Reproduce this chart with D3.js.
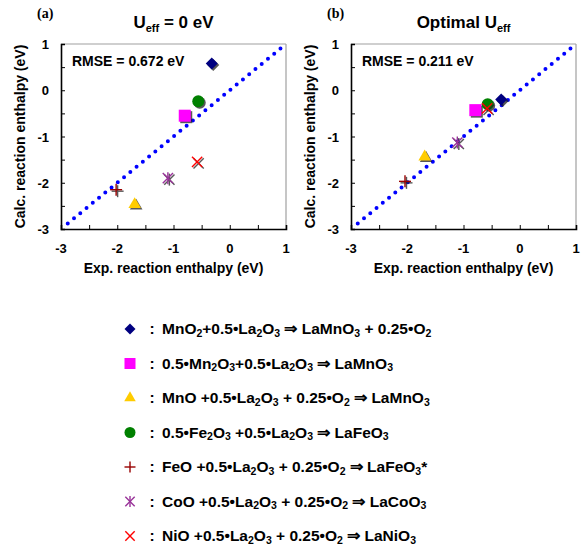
<!DOCTYPE html>
<html>
<head>
<meta charset="utf-8">
<script src="https://cdn.jsdelivr.net/npm/d3@7"></script>
<style>
  body { margin: 0; background: #fff; }
  svg { display: block; }
  text { font-family: "Liberation Sans", Arial, sans-serif; font-weight: bold; fill: #000; }
</style>
</head>
<body>
<svg id="chart" width="583" height="545"></svg>
<script>
// reactions, "_" marks the next char as subscript
const reactions = [
  "MnO_2+0.5•La_2O_3 ⇒ LaMnO_3 + 0.25•O_2",
  "0.5•Mn_2O_3+0.5•La_2O_3 ⇒ LaMnO_3",
  "MnO +0.5•La_2O_3 + 0.25•O_2 ⇒ LaMnO_3",
  "0.5•Fe_2O_3 +0.5•La_2O_3 ⇒ LaFeO_3",
  "FeO +0.5•La_2O_3 + 0.25•O_2 ⇒ LaFeO_3*",
  "CoO +0.5•La_2O_3 + 0.25•O_2 ⇒ LaCoO_3",
  "NiO +0.5•La_2O_3 + 0.25•O_2 ⇒ LaNiO_3"
];
const markers = ["diamond", "square", "triangle", "circle", "plus", "asterisk", "cross"];
const colors = ["#000080", "#FF00FF", "#FFCC00", "#008000", "#990000", "#993399", "#FF0000"];

// panel (a): U_eff = 0 eV
const expA = [-0.32, -0.80, -1.69, -0.56, -2.02, -1.10, -0.58];
const calcA = [0.58, -0.55, -2.47, -0.24, -2.15, -1.90, -1.55];
// panel (b): optimal U_eff
const expB = [-0.33, -0.79, -1.69, -0.57, -2.04, -1.11, -0.58];
const calcB = [-0.20, -0.43, -1.44, -0.30, -1.97, -1.13, -0.39];

const tickValues = [-3, -2, -1, 0, 1];
const rmse = ["RMSE = 0.672 eV", "RMSE = 0.211 eV"];

const svg = d3.select("#chart");

// draws one marker at (0,0) inside group g
function drawMarker(g, type, color, s) {
  const h = s / 2;
  if (type === "diamond") {
    g.append("path").attr("d", d3.symbol(d3.symbolSquare, s * s * 0.5)())
      .attr("transform", "rotate(45)").attr("fill", color);
  } else if (type === "square") {
    g.append("rect").attr("x", -h).attr("y", -h).attr("width", s).attr("height", s).attr("fill", color);
  } else if (type === "triangle") {
    g.append("path").attr("d", d3.symbol(d3.symbolTriangle, 0.433 * s * s * 1.1)()).attr("fill", color);
  } else if (type === "circle") {
    g.append("circle").attr("r", h).attr("fill", color);
  } else {
    let lines = [];
    if (type === "plus" || type === "asterisk") lines.push([0, -h, 0, h]);
    if (type === "plus") lines.push([-h, 0, h, 0]);
    if (type === "cross" || type === "asterisk") {
      lines.push([-h * 0.85, -h * 0.85, h * 0.85, h * 0.85]);
      lines.push([-h * 0.85, h * 0.85, h * 0.85, -h * 0.85]);
    }
    lines.forEach(l => g.append("line")
      .attr("x1", l[0]).attr("y1", l[1]).attr("x2", l[2]).attr("y2", l[3])
      .attr("stroke", color).attr("stroke-width", 1.4));
  }
}

function drawPanel(x0, expVals, calcVals, letter, titleMain, titleSub, titleAfter, rmseText) {
  const x = d3.scaleLinear().domain([-3, 1]).range([x0, x0 + 225]);
  const y = d3.scaleLinear().domain([-3, 1]).range([229, 44]);
  const g = svg.append("g");

  // frame: grey top/right, black axes
  g.append("line").attr("x1", x(-3)).attr("x2", x(1)).attr("y1", y(1)).attr("y2", y(1))
    .attr("stroke", "#a0a0a0").attr("stroke-width", 1.2);
  g.append("line").attr("x1", x(1)).attr("x2", x(1)).attr("y1", y(1)).attr("y2", y(-3))
    .attr("stroke", "#a0a0a0").attr("stroke-width", 1.2);

  const xAxis = d3.axisBottom(x).tickValues(d3.range(-3, 1.01, 0.5)).tickSize(-4).tickFormat("");
  const yAxis = d3.axisLeft(y).tickValues(d3.range(-3, 1.01, 0.5)).tickSize(-4).tickFormat("");
  g.append("g").attr("transform", `translate(0,${y(-3)})`).call(xAxis)
    .call(a => a.select(".domain").attr("stroke-width", 1.6));
  g.append("g").attr("transform", `translate(${x(-3)},0)`).call(yAxis)
    .call(a => a.select(".domain").attr("stroke-width", 1.6));

  // tick labels
  g.selectAll(".xl").data(tickValues).enter().append("text")
    .attr("x", d => x(d)).attr("y", 253).attr("text-anchor", "middle")
    .style("font-size", "13px").text(d => d);
  g.selectAll(".yl").data(tickValues).enter().append("text")
    .attr("x", x(-3) - 12).attr("y", d => y(d) + 5).attr("text-anchor", "end")
    .style("font-size", "13px").text(d => d);

  // axis titles
  g.append("text").attr("x", x(-1)).attr("y", 273).attr("text-anchor", "middle")
    .style("font-size", "14px").text("Exp. reaction enthalpy (eV)");
  g.append("text").attr("transform", `translate(${x0 - 36},${y(-1)}) rotate(-90)`)
    .attr("text-anchor", "middle").style("font-size", "14px").text("Calc. reaction enthalpy (eV)");

  // panel letter and title
  g.append("text").attr("x", x0 - 24).attr("y", 18)
    .style("font-family", "'Liberation Serif', 'Times New Roman', serif").style("font-size", "14px")
    .text(letter);
  const t = g.append("text").attr("x", x(-1)).attr("y", 28).attr("text-anchor", "middle")
    .style("font-size", "17px");
  t.append("tspan").text(titleMain);
  t.append("tspan").attr("dy", 4).style("font-size", "11px").text(titleSub);
  t.append("tspan").attr("dy", -4).text(titleAfter);

  g.append("text").attr("x", x0 + 11).attr("y", 66).style("font-size", "14px").text(rmseText);

  // dotted y = x line
  g.append("line")
    .attr("x1", x(-2.88)).attr("y1", y(-2.88)).attr("x2", x(0.93)).attr("y2", y(0.93))
    .attr("stroke", "#0000FF").attr("stroke-width", 4).attr("stroke-linecap", "round")
    .attr("stroke-dasharray", "0 8.1");

  // markers with a dark drop shadow
  expVals.forEach((d, i) => {
    const sh = g.append("g").attr("transform", `translate(${x(d) + 1.5},${y(calcVals[i]) + 1.5})`)
      .attr("opacity", 0.75);
    drawMarker(sh, markers[i], "#202020", 12);
    const m = g.append("g").attr("transform", `translate(${x(d)},${y(calcVals[i])})`);
    drawMarker(m, markers[i], colors[i], 12);
  });
}

drawPanel(61, expA, calcA, "(a)", "U", "eff", " = 0 eV", rmse[0]);
drawPanel(351, expB, calcB, "(b)", "Optimal U", "eff", "", rmse[1]);

// legend
const legend = svg.append("g");
reactions.forEach((r, i) => {
  const ly = 329 + i * 34.5;
  const m = legend.append("g").attr("transform", `translate(130,${ly})`);
  drawMarker(m, markers[i], colors[i], 11);
  legend.append("text").attr("x", 152).attr("y", ly + 5).attr("text-anchor", "middle")
    .style("font-size", "15.5px").text(":");
  const t = legend.append("text").attr("x", 162).attr("y", ly + 5).style("font-size", "15.5px");
  // split into normal / subscript pieces
  const parts = r.split(/(_.)/).filter(p => p.length);
  let sub = false;
  parts.forEach(p => {
    if (p[0] === "_") {
      t.append("tspan").attr("dy", sub ? 0 : 2.5).style("font-size", "10.5px").text(p[1]);
      sub = true;
    } else {
      t.append("tspan").attr("dy", sub ? -2.5 : 0).text(p);
      sub = false;
    }
  });
});
</script>
</body>
</html>
